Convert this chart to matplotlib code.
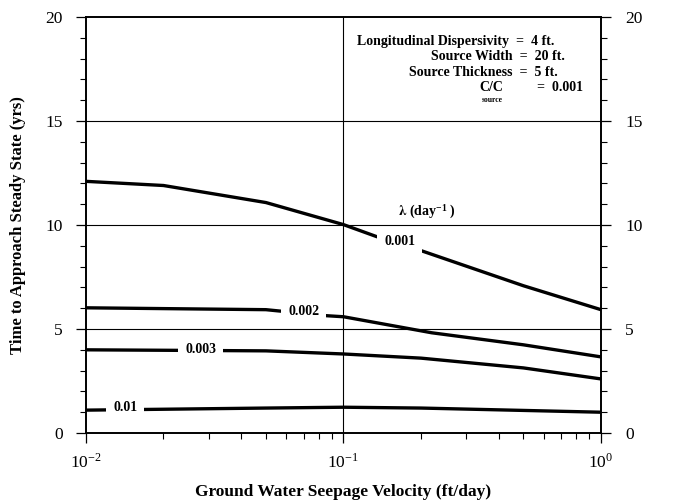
import numpy as np
import matplotlib
matplotlib.use("Agg")
import matplotlib.pyplot as plt
from matplotlib.ticker import FixedLocator, NullFormatter

plt.rcParams["font.family"] = ["Liberation Serif", "DejaVu Serif"]
plt.rcParams["mathtext.fontset"] = "stix"

# seepage velocity (ft/day) and time to steady state (yrs), per decay rate
vel_001 = [0.01, 0.02, 0.05, 0.1, 0.134, 0.2, 0.5, 1.0]
t_001 = [12.1, 11.9, 11.08, 10.02, 9.45, 8.77, 7.08, 5.93]
vel_002 = [0.01, 0.05, 0.086, 0.1, 0.22, 0.5, 1.0]
t_002 = [6.02, 5.93, 5.64, 5.59, 4.82, 4.24, 3.66]
vel_003 = [0.01, 0.05, 0.1, 0.2, 0.5, 1.0]
t_003 = [4.0, 3.95, 3.8, 3.6, 3.13, 2.6]
vel_01 = [0.01, 0.05, 0.1, 0.2, 1.0]
t_01 = [1.1, 1.2, 1.24, 1.2, 1.0]

curves = [(vel_001, t_001), (vel_002, t_002), (vel_003, t_003), (vel_01, t_01)]
curve_labels = ["0.001", "0.002", "0.003", "0.01"]
label_pos = [(0.1655, 9.23), (0.070, 5.83), (0.0279, 4.0), (0.0142, 1.22)]

fig = plt.figure(figsize=(6.78, 5.01), dpi=100)
ax = fig.add_axes([0.1268, 0.1357, 0.8864 - 0.1268, 0.966 - 0.1357])

ax.set_xscale("log")
ax.set_xlim(0.01, 1.0)
ax.set_ylim(0, 20)

for y in (5, 10, 15):
    ax.axhline(y, color="black", lw=0.8, zorder=1)
ax.axvline(0.1, color="black", lw=0.8, zorder=1)

for (v, t) in curves:
    ax.plot(v, t, color="black", lw=2.4, zorder=2)

for lab, (lx, ly) in zip(curve_labels, label_pos):
    ax.text(lx, ly, lab, ha="center", va="center", fontsize=10, fontweight="bold",
            zorder=3, bbox=dict(facecolor="white", edgecolor="none", pad=5))

ax.text(0.211, 10.62, r"$\mathbf{\lambda}$ (day$^{\mathregular{-1}}$ )", ha="center",
        va="center", fontsize=10, fontweight="bold")

# parameter block, upper right
ann = [("Longitudinal Dispersivity  =  4 ft.", 0.662, 18.8),
       ("Source Width  =  20 ft.", 0.727, 18.1),
       ("Source Thickness  =  5 ft.", 0.678, 17.35)]
for s, xr, y in ann:
    ax.text(xr, y, s, ha="right", va="center", fontsize=10, fontweight="bold")
ax.text(0.337, 16.62, "C/C", ha="left", va="center", fontsize=10, fontweight="bold")
ax.text(0.345, 16.0, "source", ha="left", va="center", fontsize=5.5, fontweight="bold")
ax.text(0.855, 16.62, "=  0.001", ha="right", va="center", fontsize=10, fontweight="bold")

ax.yaxis.set_major_locator(FixedLocator([0, 5, 10, 15, 20]))
ax.yaxis.set_minor_locator(FixedLocator(np.arange(0, 21, 1)))
ax.tick_params(axis="both", which="major", direction="out", length=7.5, width=0.9,
               labelsize=12.5)
ax.tick_params(axis="both", which="minor", direction="out", length=4, width=0.8)
ax.tick_params(axis="y", which="major", pad=9)
ax.tick_params(axis="x", which="major", pad=7)
ax.set_xticks([0.01, 0.1, 1.0])
ax.set_xticklabels([r"10$^{\mathregular{-2}}$", r"10$^{\mathregular{-1}}$", r"10$^{\mathregular{0}}$"])
ax.xaxis.set_minor_formatter(NullFormatter())

ax2 = ax.twinx()
ax2.set_ylim(0, 20)
ax2.yaxis.set_major_locator(FixedLocator([0, 5, 10, 15, 20]))
ax2.yaxis.set_minor_locator(FixedLocator(np.arange(0, 21, 1)))
ax2.tick_params(axis="y", which="major", direction="out", length=7.5, width=0.9,
                labelsize=12.5, pad=10)
ax2.tick_params(axis="y", which="minor", direction="out", length=4, width=0.8)

for a in (ax, ax2):
    for sp in a.spines.values():
        sp.set_linewidth(1.2)

ax.set_xlabel("Ground Water Seepage Velocity (ft/day)", fontsize=12.5, fontweight="bold",
              labelpad=9)
ax.set_ylabel("Time to Approach Steady State (yrs)", fontsize=12, fontweight="bold",
              labelpad=14)

fig.savefig("out.png", dpi=100)
